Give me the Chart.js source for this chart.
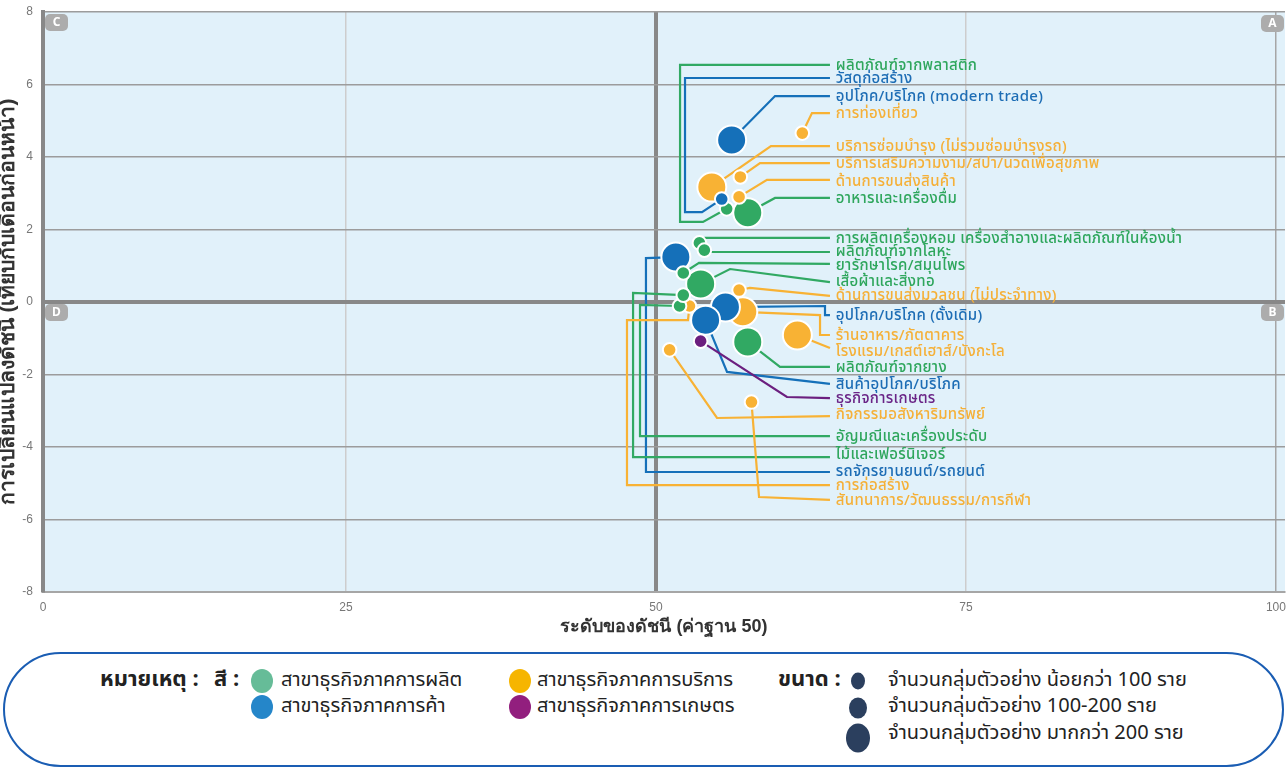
<!DOCTYPE html>
<html>
<head>
<meta charset="utf-8">
<script src="https://cdn.jsdelivr.net/npm/chart.js@4.4.1/dist/chart.umd.min.js"></script>
<style>
html,body{margin:0;padding:0;background:#fff;width:1287px;height:774px;overflow:hidden;font-family:'Noto Sans Thai','Noto Sans',sans-serif;position:relative;}
#wrap{position:absolute;left:0;top:0;width:1287px;height:645px;}
#legendBox{position:absolute;left:3px;top:652px;width:1277px;height:111px;border:2px solid #1a5db3;border-radius:58px;box-sizing:content-box;}
.lg{position:absolute;white-space:nowrap;font-size:20px;color:#222;line-height:26px;transform:translateY(-50%);}
.lgb{font-weight:bold;font-size:22px;}
.dot{position:absolute;border-radius:50%;transform:translate(-50%,-50%);}
</style>
</head>
<body>
<div id="wrap"><canvas id="c" width="1287" height="645"></canvas></div>
<div id="legendBox"></div>
<div class="lg lgb" style="left:100px;top:680px;">หมายเหตุ :</div>
<div class="lg lgb" style="left:214px;top:680px;">สี :</div>
<div class="dot" style="left:262px;top:681px;width:22px;height:24px;background:#66bc98;"></div>
<div class="lg" style="left:281px;top:680px;">สาขาธุรกิจภาคการผลิต</div>
<div class="dot" style="left:262px;top:707px;width:22px;height:24px;background:#2586c9;"></div>
<div class="lg" style="left:281px;top:706px;">สาขาธุรกิจภาคการค้า</div>
<div class="dot" style="left:520px;top:681px;width:22px;height:24px;background:#f6b500;"></div>
<div class="lg" style="left:537px;top:680px;">สาขาธุรกิจภาคการบริการ</div>
<div class="dot" style="left:520px;top:707px;width:22px;height:24px;background:#921f7e;"></div>
<div class="lg" style="left:537px;top:706px;">สาขาธุรกิจภาคการเกษตร</div>
<div class="lg lgb" style="left:778px;top:680px;">ขนาด :</div>
<div class="dot" style="left:858px;top:681px;width:14px;height:17px;background:#2b3f5e;"></div>
<div class="lg" style="left:888px;top:680px;">จำนวนกลุ่มตัวอย่าง น้อยกว่า 100 ราย</div>
<div class="dot" style="left:858px;top:708px;width:18px;height:21px;background:#2b3f5e;"></div>
<div class="lg" style="left:888px;top:706px;">จำนวนกลุ่มตัวอย่าง 100-200 ราย</div>
<div class="dot" style="left:858px;top:738px;width:24px;height:29px;background:#2b3f5e;"></div>
<div class="lg" style="left:888px;top:733px;">จำนวนกลุ่มตัวอย่าง มากกว่า 200 ราย</div>

<script>
// ---------------- DATA ----------------
// x: index level (base 50), y: change vs previous month, size: sample-size class (1: <100, 2: 100-200, 3: >200)
const mfgNames = ['ผลิตภัณฑ์จากพลาสติก','อาหารและเครื่องดื่ม','การผลิตเครื่องหอม เครื่องสำอางและผลิตภัณฑ์ในห้องน้ำ','ผลิตภัณฑ์จากโลหะ','ยารักษาโรค/สมุนไพร','เสื้อผ้าและสิ่งทอ','ผลิตภัณฑ์จากยาง','อัญมณีและเครื่องประดับ','ไม้และเฟอร์นิเจอร์'];
const mfgIndex = [55.7, 57.4, 53.5, 53.9, 52.2, 53.6, 57.4, 51.9, 52.2];
const mfgChange = [2.57, 2.46, 1.63, 1.43, 0.80, 0.50, -1.10, -0.11, 0.19];
const mfgSize = [1, 3, 1, 1, 1, 3, 3, 1, 1];

const tradeNames = ['วัสดุก่อสร้าง','อุปโภค/บริโภค (modern trade)','อุปโภค/บริโภค (ดั้งเดิม)','สินค้าอุปโภค/บริโภค','รถจักรยานยนต์/รถยนต์'];
const tradeIndex = [55.3, 56.1, 55.6, 54.0, 51.6];
const tradeChange = [2.84, 4.47, -0.14, -0.50, 1.24];
const tradeSize = [1, 3, 3, 3, 3];

const svcNames = ['การท่องเที่ยว','บริการซ่อมบำรุง (ไม่รวมซ่อมบำรุงรถ)','บริการเสริมความงาม/สปา/นวดเพื่อสุขภาพ','ด้านการขนส่งสินค้า','ด้านการขนส่งมวลชน (ไม่ประจำทาง)','ร้านอาหาร/ภัตตาคาร','โรงแรม/เกสต์เฮาส์/บังกะโล','กิจกรรมอสังหาริมทรัพย์','การก่อสร้าง','สันทนาการ/วัฒนธรรม/การกีฬา'];
const svcIndex = [61.8, 54.5, 56.8, 56.7, 56.7, 57.0, 61.4, 51.1, 52.7, 57.7];
const svcChange = [4.66, 3.17, 3.45, 2.90, 0.33, -0.27, -0.91, -1.32, -0.11, -2.76];
const svcSize = [1, 3, 1, 1, 1, 3, 3, 1, 1, 1];

const agriNames = ['ธุรกิจการเกษตร'];
const agriIndex = [53.6];
const agriChange = [-1.08];
const agriSize = [1];

const xTickValues = [0, 25, 50, 75, 100];
const yTickValues = [-8, -6, -4, -2, 0, 2, 4, 6, 8];
const quadrantLetters = ['A', 'B', 'C', 'D'];

// ---------------- LAYOUT / STYLE ----------------
const X_MIN = 0.56, X_MAX = 100.73;
const LINE_END_X = 64.03, LABEL_X = 64.5;
const radiusForClass = {1: 6.8, 2: 10.5, 3: 14.5};

const groups = [
  {names: tradeNames, x: tradeIndex, y: tradeChange, s: tradeSize, color: '#1570b9', text: '#1d6db5'},
  {names: agriNames, x: agriIndex, y: agriChange, s: agriSize, color: '#6b1f7f', text: '#6a2486'},
  {names: mfgNames, x: mfgIndex, y: mfgChange, s: mfgSize, color: '#31a963', text: '#2ea65c'},
  {names: svcNames, x: svcIndex, y: svcChange, s: svcSize, color: '#f8b234', text: '#f5b038'}
];

// leader path bend points (data coords) and label y for each category
const leaderLayout = {
  'ผลิตภัณฑ์จากพลาสติก': {ly: 6.54, path: [[53.79, 2.21], [51.94, 2.21], [51.94, 6.54]]},
  'วัสดุก่อสร้าง': {ly: 6.18, path: [[53.71, 2.48], [52.34, 2.48], [52.34, 6.18]]},
  'อุปโภค/บริโภค (modern trade)': {ly: 5.68, path: [[59.6, 5.68]]},
  'การท่องเที่ยว': {ly: 5.21, path: [[62.58, 5.21]]},
  'บริการซ่อมบำรุง (ไม่รวมซ่อมบำรุงรถ)': {ly: 4.30, path: [[59.27, 4.30]]},
  'บริการเสริมความงาม/สปา/นวดเพื่อสุขภาพ': {ly: 3.83, path: [[58.39, 3.83]]},
  'ด้านการขนส่งสินค้า': {ly: 3.34, lineY: 3.37, path: [[58.95, 3.37]]},
  'อาหารและเครื่องดื่ม': {ly: 2.87, path: [[59.6, 2.87]]},
  'การผลิตเครื่องหอม เครื่องสำอางและผลิตภัณฑ์ในห้องน้ำ': {ly: 1.77, path: [[53.95, 1.77]]},
  'ผลิตภัณฑ์จากโลหะ': {ly: 1.41, lineY: 1.38, path: [[54.3, 1.38]]},
  'ยารักษาโรค/สมุนไพร': {ly: 1.02, lineY: 1.05, path: [[53.47, 1.08]]},
  'เสื้อผ้าและสิ่งทอ': {ly: 0.58, lineY: 0.55, path: [[55.97, 0.91]]},
  'ด้านการขนส่งมวลชน (ไม่ประจำทาง)': {ly: 0.19, lineY: 0.17, path: [[57.58, 0.39]]},
  'อุปโภค/บริโภค (ดั้งเดิม)': {ly: -0.36, path: [[63.63, -0.11], [63.63, -0.36]]},
  'ร้านอาหาร/ภัตตาคาร': {ly: -0.91, path: [[63.23, -0.36], [63.23, -0.91]]},
  'โรงแรม/เกสต์เฮาส์/บังกะโล': {ly: -1.35, lineY: -1.27, path: []},
  'ผลิตภัณฑ์จากยาง': {ly: -1.79, path: [[60.0, -1.79]]},
  'สินค้าอุปโภค/บริโภค': {ly: -2.26, path: [[55.73, -1.93]]},
  'ธุรกิจการเกษตร': {ly: -2.65, path: [[60.56, -2.62]]},
  'กิจกรรมอสังหาริมทรัพย์': {ly: -3.09, lineY: -3.15, path: [[54.92, -3.20]]},
  'อัญมณีและเครื่องประดับ': {ly: -3.70, path: [[48.71, -0.08], [48.71, -3.70]]},
  'ไม้และเฟอร์นิเจอร์': {ly: -4.19, lineY: -4.28, path: [[48.15, 0.25], [48.15, -4.28]]},
  'รถจักรยานยนต์/รถยนต์': {ly: -4.66, lineY: -4.69, path: [[49.19, 1.21], [49.19, -4.69]]},
  'การก่อสร้าง': {ly: -5.05, path: [[52.58, -0.50], [47.66, -0.50], [47.66, -5.05]]},
  'สันทนาการ/วัฒนธรรม/การกีฬา': {ly: -5.46, path: [[58.31, -5.38]]}
};

// ---------------- DATASETS ----------------
const datasets = [];
[3, 1].forEach((cls, k) => {
  groups.forEach(g => {
    const pts = [];
    g.names.forEach((n, i) => { if (g.s[i] === cls) pts.push({x: g.x[i], y: g.y[i], r: radiusForClass[cls]}); });
    if (pts.length) datasets.push({
      data: pts, backgroundColor: g.color, borderColor: '#ffffff', borderWidth: 2,
      order: k === 0 ? 2 : 1
    });
  });
});

// ---------------- PLUGINS ----------------
const bgPlugin = {
  id: 'bg',
  beforeDraw(chart) {
    const {ctx, chartArea: a} = chart;
    ctx.save(); ctx.fillStyle = '#e1f1fa';
    ctx.fillRect(a.left, a.top, a.right - a.left, a.bottom - a.top);
    ctx.restore();
  }
};

const leaderPlugin = {
  id: 'leaders',
  beforeDatasetsDraw(chart) {
    const {ctx, scales: {x, y}} = chart;
    ctx.save();
    ctx.lineWidth = 2.2; ctx.lineJoin = 'miter';
    groups.forEach(g => g.names.forEach((n, i) => {
      const L = leaderLayout[n];
      ctx.strokeStyle = g.color;
      ctx.beginPath();
      ctx.moveTo(x.getPixelForValue(g.x[i]), y.getPixelForValue(g.y[i]));
      L.path.forEach(p => ctx.lineTo(x.getPixelForValue(p[0]), y.getPixelForValue(p[1])));
      ctx.lineTo(x.getPixelForValue(LINE_END_X), y.getPixelForValue(L.lineY !== undefined ? L.lineY : L.ly));
      ctx.stroke();
    }));
    ctx.restore();
  },
  afterDatasetsDraw(chart) {
    const {ctx, scales: {x, y}} = chart;
    ctx.save();
    ctx.font = "500 15px 'Noto Sans Thai','Noto Sans',sans-serif";
    try { ctx.letterSpacing = '0.3px'; } catch (e) {}
    ctx.textBaseline = 'middle'; ctx.textAlign = 'left';
    groups.forEach(g => g.names.forEach((n, i) => {
      const L = leaderLayout[n];
      ctx.fillStyle = g.text;
      ctx.fillText(n, x.getPixelForValue(LABEL_X), y.getPixelForValue(L.ly) + 2);
    }));
    ctx.restore();
  }
};

const badgePlugin = {
  id: 'badges',
  afterDraw(chart) {
    const {ctx, chartArea: a, scales: {y}} = chart;
    const y0 = y.getPixelForValue(0);
    const pos = {A: [a.right - 24, a.top + 3], B: [a.right - 24, y0 + 2], C: [a.left + 2, a.top + 2], D: [a.left + 2, y0 + 2]};
    ctx.save();
    quadrantLetters.forEach(l => {
      const [bx, by] = pos[l];
      ctx.fillStyle = '#acacac';
      ctx.beginPath(); ctx.roundRect(bx, by, 23, 17, 5); ctx.fill();
      ctx.fillStyle = '#fff'; ctx.font = "bold 12px 'Noto Sans',sans-serif";
      ctx.textAlign = 'center'; ctx.textBaseline = 'middle';
      ctx.fillText(l, bx + 11.5, by + 9);
    });
    ctx.restore();
  }
};

// ---------------- CHART ----------------
new Chart(document.getElementById('c'), {
  type: 'bubble',
  data: {datasets},
  options: {
    responsive: false, animation: false, events: [],
    layout: {autoPadding: false, padding: {top: 12, right: 2, left: 0, bottom: 0}},
    plugins: {legend: {display: false}, tooltip: {enabled: false}},
    scales: {
      x: {
        type: 'linear', min: X_MIN, max: X_MAX,
        afterBuildTicks: s => { s.ticks = xTickValues.map(v => ({value: Math.min(Math.max(v, X_MIN), X_MAX)})); },
        ticks: {callback: (v, i) => String(xTickValues[i]), color: '#777', font: {size: 12}, padding: 8, maxRotation: 0, autoSkip: false},
        grid: {
          drawTicks: false,
          color: c => c.tick && c.tick.value === 50 ? '#888' : (c.index === xTickValues.length - 1 ? '#a6a6a6' : '#cdcdcd'),
          lineWidth: c => c.tick && c.tick.value === 50 ? 4 : 1.5
        },
        border: {display: true, color: '#a6a6a6', width: 2},
        title: {display: true, text: 'ระดับของดัชนี (ค่าฐาน 50)', color: '#333', font: {size: 18, weight: 'bold'}, padding: {top: 0, bottom: 7}},
        afterFit: s => { s.height = 53; s.paddingLeft = 0; s.paddingRight = 0; }
      },
      y: {
        type: 'linear', min: -8, max: 8,
        afterBuildTicks: s => { s.ticks = yTickValues.map(v => ({value: v})); },
        ticks: {color: '#777', font: {size: 12}, padding: 10},
        grid: {
          drawTicks: false,
          color: c => c.tick && c.tick.value === 0 ? '#888' : '#9c9c9c',
          lineWidth: c => c.tick && c.tick.value === 0 ? 4 : 1.5
        },
        border: {display: true, color: '#888', width: 4},
        title: {display: true, text: 'การเปลี่ยนแปลงดัชนี (เทียบกับเดือนก่อนหน้า)', color: '#333', font: {size: 21, weight: 'bold'}, padding: {top: -4, bottom: 0}},
        afterFit: s => { s.width = 43; s.paddingTop = 0; s.paddingBottom = 0; }
      }
    }
  },
  plugins: [bgPlugin, leaderPlugin, badgePlugin]
});
</script>
</body>
</html>
